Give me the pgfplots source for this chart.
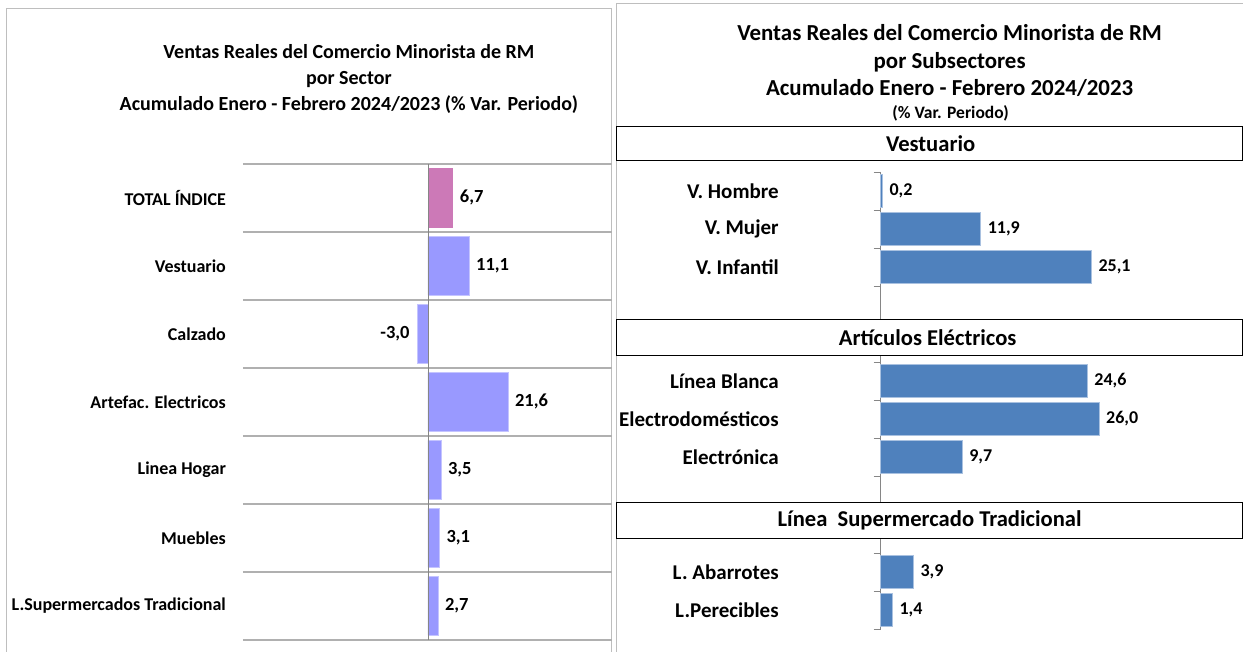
\documentclass[border=0pt]{standalone}
\usepackage{pgfplots}
\pgfplotsset{compat=1.18}
\usepackage{pgfplotstable}
\usepackage{fontspec}
\setmainfont{Carlito}
\definecolor{pinkbar}{HTML}{CC79B7}
\definecolor{violetbar}{HTML}{9999FF}
\definecolor{violetedge}{HTML}{C4C4FF}
\definecolor{bluebar}{HTML}{4F81BD}
\definecolor{blueedge}{HTML}{A9C1E0}
\definecolor{gridgray}{HTML}{B0B0B0}
\definecolor{axisgray}{HTML}{868686}
\definecolor{framegray}{HTML}{BEBEBE}

\pgfplotstableread{
pos val lab
0 6.7 6,7
}\totaldata
\pgfplotstableread{
pos val lab
1 11.1 11,1
3 21.6 21,6
4 3.5 3,5
5 3.1 3,1
6 2.7 2,7
}\sectordata
\pgfplotstableread{
pos val lab
2 -3.0 -3,0
}\negdata
\pgfplotstableread{
pos val lab
0 0.2 0,2
1 11.9 11,9
2 25.1 25,1
}\vestdata
\pgfplotstableread{
pos val lab
0 24.6 24,6
1 26.0 26,0
2 9.7 9,7
}\electdata
\pgfplotstableread{
pos val lab
0 3.9 3,9
1 1.4 1,4
}\superdata

\pgfplotsset{
  rightgroup/.style={
    scale only axis, width=336pt,
    xbar, bar shift=0pt, bar width=33pt,
    xmin=0, xmax=40, y dir=reverse,
    axis x line=none, axis y line*=left,
    axis line style={axisgray},
    major tick length=0pt, minor tick length=7pt, tick align=outside,
    minor tick style={axisgray},
    yticklabel style={font=\bfseries\fontsize{21}{24}\selectfont, xshift=-98.5pt},
    point meta=explicit symbolic,
    nodes near coords,
    nodes near coords align={horizontal},
    every node near coord/.append style={anchor=west, font=\bfseries\fontsize{18}{20}\selectfont, inner xsep=7pt, text=black},
    clip=false,
  }
}

\begin{document}
\begin{tikzpicture}
\begin{scope}[x=1pt,y=-1pt]
\path (0,0) rectangle (1243,652);
% frames
\draw[framegray, line width=1pt] (7,652) -- (7,9) -- (612,9) -- (612,652);
\draw[framegray, line width=1pt] (616.5,652) -- (616.5,4) -- (1243,4);
% left title
\node[font=\bfseries\fontsize{20}{26}\selectfont, align=center] at (349,79)
 {Ventas Reales del Comercio Minorista de RM\\por Sector\\Acumulado Enero - Febrero 2024/2023 (\% Var. Periodo)};
% right title
\node[font=\bfseries\fontsize{22.9}{27.5}\selectfont, align=center] at (950,61)
 {Ventas Reales del Comercio Minorista de RM\\por Subsectores\\Acumulado Enero - Febrero 2024/2023};
\node[font=\bfseries\fontsize{17.5}{20}\selectfont] at (951,113) {(\% Var. Periodo)};
\end{scope}

% left chart
\begin{axis}[
  at={(243pt,-164pt)}, anchor=north west,
  scale only axis, width=369pt, height=476pt,
  xbar, bar shift=0pt, bar width=59pt,
  xmin=-50, xmax=49.7, ymin=-0.5, ymax=6.5, y dir=reverse,
  axis line style={draw=none},
  xtick=\empty,
  ytick={0,...,6},
  yticklabels={TOTAL ÍNDICE, Vestuario, Calzado, Artefac. Electricos, Linea Hogar, Muebles, L.Supermercados Tradicional},
  minor ytick={-0.5,0.5,...,6.5},
  yminorgrids, minor grid style={gridgray, line width=1.6pt},
  major tick length=0pt, minor tick length=0pt,
  yticklabel style={font=\bfseries\fontsize{18}{20}\selectfont, xshift=-13.5pt},
  point meta=explicit symbolic,
  nodes near coords,
  nodes near coords align={horizontal},
  every node near coord/.append style={font=\bfseries\fontsize{18.5}{20}\selectfont, inner xsep=7pt, text=black},
  clip=false,
]
\addplot[fill=pinkbar, draw=pinkbar, every node near coord/.append style={anchor=west}] table[x=val,y=pos,meta=lab]{\totaldata};
\addplot[fill=violetbar, draw=violetedge, every node near coord/.append style={anchor=west}] table[x=val,y=pos,meta=lab]{\sectordata};
\addplot[fill=violetbar, draw=violetedge, every node near coord/.append style={anchor=east}] table[x=val,y=pos,meta=lab]{\negdata};
\draw[axisgray] (axis cs:0,-0.5) -- (axis cs:0,6.5);
\end{axis}

% right group 1
\begin{axis}[rightgroup,
  at={(881pt,-172pt)}, anchor=north west, height=148pt,
  ymin=-0.5, ymax=3.39,
  ytick={0,1,2}, yticklabels={V. Hombre, V. Mujer, V. Infantil},
  minor ytick={-0.5,0.5,1.5,2.5},
]
\addplot[fill=bluebar, draw=blueedge] table[x=val,y=pos,meta=lab]{\vestdata};
\end{axis}
% right group 2
\begin{axis}[rightgroup,
  at={(881pt,-356pt)}, anchor=north west, height=147pt,
  ymin=-0.658, ymax=3.21,
  ytick={0,1,2}, yticklabels={Línea Blanca, Electrodomésticos, Electrónica},
  minor ytick={-0.5,0.5,1.5,2.5},
]
\addplot[fill=bluebar, draw=blueedge] table[x=val,y=pos,meta=lab]{\electdata};
\end{axis}
% right group 3
\begin{axis}[rightgroup,
  at={(881pt,-539pt)}, anchor=north west, height=90pt,
  ymin=-0.868, ymax=1.5,
  ytick={0,1}, yticklabels={L. Abarrotes, L.Perecibles},
  minor ytick={-0.5,0.5,1.5},
]
\addplot[fill=bluebar, draw=blueedge] table[x=val,y=pos,meta=lab]{\superdata};
\end{axis}

\begin{scope}[x=1pt,y=-1pt]
\draw[black, fill=white, line width=0.9pt] (616.5,127) rectangle (1243,160.5);
\node[font=\bfseries\fontsize{22.6}{24}\selectfont] at (931,144) {Vestuario};
\draw[black, fill=white, line width=0.9pt] (616.5,320) rectangle (1243,355.5);
\node[font=\bfseries\fontsize{22.6}{24}\selectfont] at (928,338) {Artículos Eléctricos};
\draw[black, fill=white, line width=0.9pt] (616.5,503) rectangle (1243,539);
\node[font=\bfseries\fontsize{22.6}{24}\selectfont] at (930,521) {Línea\ \ Supermercado Tradicional};
\end{scope}
\end{tikzpicture}
\end{document}
